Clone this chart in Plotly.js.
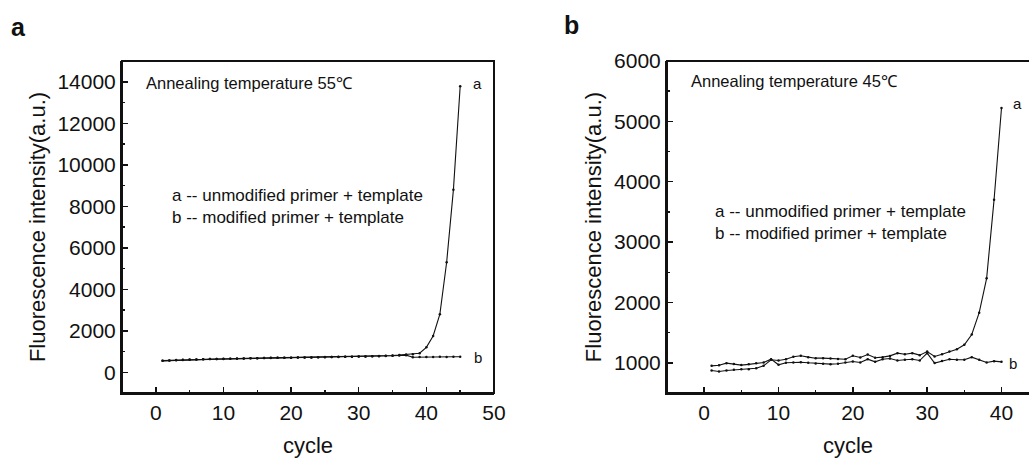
<!DOCTYPE html>
<html>
<head>
<meta charset="utf-8">
<script src="https://cdn.plot.ly/plotly-3.0.1.min.js"></script>
<style>
html,body{margin:0;padding:0;background:#fff;}
#wrap{position:relative;width:1029px;height:458px;overflow:hidden;}
#chart{width:1029px;height:458px;}
.frame{position:absolute;box-sizing:border-box;border:2px solid #111;pointer-events:none;}
#frameA{left:121px;top:60px;width:374px;height:334px;}
#frameB{left:666px;top:60px;width:380px;height:334px;border-right:none;}
</style>
</head>
<body>
<div id="wrap">
<div id="chart"></div>
<div class="frame" id="frameA"></div>
<div class="frame" id="frameB"></div>
</div>
<script>
// Panel a: annealing 55 °C, cycles 1..45
const cyclesA = Array.from({length: 45}, (_, i) => i + 1);
const a55 = [560, 570, 585, 600, 610, 620, 630, 640, 635, 645, 650, 660, 665, 670, 680, 690, 695, 700, 695, 700, 705, 710, 715, 720, 730, 735, 745, 745, 750, 755, 765, 775, 780, 790, 810, 830, 850, 870, 915, 1200, 1750, 2800, 5300, 8800, 13780];
const b55 = [550, 565, 580, 595, 605, 615, 625, 635, 640, 640, 645, 655, 665, 672, 680, 686, 690, 696, 700, 702, 706, 710, 715, 720, 726, 732, 738, 744, 750, 756, 762, 770, 776, 785, 795, 810, 825, 720, 730, 735, 740, 745, 740, 745, 750];

// Panel b: annealing 45 °C, cycles 1..40
const cyclesB = Array.from({length: 40}, (_, i) => i + 1);
const a45 = [873, 856, 873, 884, 895, 895, 911, 950, 1050, 1039, 1060, 1100, 1116, 1094, 1077, 1077, 1072, 1065, 1060, 1116, 1088, 1138, 1083, 1094, 1115, 1160, 1143, 1160, 1127, 1187, 1105, 1143, 1187, 1226, 1298, 1470, 1830, 2400, 3700, 5220];
const b45 = [950, 960, 994, 980, 962, 975, 994, 1006, 1061, 967, 1000, 1005, 1010, 1000, 990, 983, 978, 985, 1006, 1022, 1005, 1060, 1016, 1060, 1071, 1038, 1050, 1060, 1038, 1160, 995, 1030, 1060, 1050, 1050, 1094, 1050, 1005, 1028, 1016];

const W = 1029, H = 458;
const px = x => x / W;
const py = y => 1 - y / H;
const FONT = 'Arial, Liberation Sans, sans-serif';
const ink = '#111111';

function line(x, y, xa, ya) {
  return {x: x, y: y, xaxis: xa, yaxis: ya, type: 'scatter', mode: 'lines+markers',
    line: {color: ink, width: 1.1}, marker: {color: ink, size: 2.5}, showlegend: false, hoverinfo: 'skip'};
}

const data = [
  line(cyclesA, b55, 'x', 'y'),
  line(cyclesA, a55, 'x', 'y'),
  line(cyclesB, b45, 'x2', 'y2'),
  line(cyclesB, a45, 'x2', 'y2')
];

function xax(domain, range, anchor) {
  return {domain: domain, range: range, anchor: anchor, showgrid: false, zeroline: false,
    showline: true, linecolor: ink, linewidth: 2,
    ticks: 'inside', ticklen: 6, tickwidth: 1.5, tickcolor: ink, dtick: 10, tick0: 0,
    minor: {ticks: 'inside', ticklen: 3, tickwidth: 1.5, tickcolor: ink, dtick: 5},
    tickfont: {family: FONT, size: 21, color: ink}, tickformat: 'd',
    title: {text: 'cycle', font: {family: FONT, size: 22, color: ink}, standoff: 14},
    automargin: false, fixedrange: true};
}
function yax(domain, range, dtick, minorD, anchor) {
  return {domain: domain, range: range, anchor: anchor, showgrid: false, zeroline: false,
    showline: true, linecolor: ink, linewidth: 2,
    ticks: 'inside', ticklen: 6, tickwidth: 1.5, tickcolor: ink, dtick: dtick, tick0: 0,
    minor: {ticks: 'inside', ticklen: 3, tickwidth: 1.5, tickcolor: ink, dtick: minorD},
    tickfont: {family: FONT, size: 21, color: ink}, tickformat: 'd',
    title: {text: 'Fluorescence intensity(a.u.)', font: {family: FONT, size: 22, color: ink}, standoff: 6},
    automargin: false, fixedrange: true};
}

const yDom = [py(393), py(61)];

function ann(text, x, y, size, xanchor) {
  return {text: text, xref: 'paper', yref: 'paper', x: px(x), y: py(y),
    xanchor: xanchor, yanchor: 'middle', showarrow: false, align: 'left',
    font: {family: FONT, size: size, color: ink}};
}
function edge(x0, y0, x1, y1) {
  return {type: 'line', xref: 'paper', yref: 'paper', x0: px(x0), y0: py(y0), x1: px(x1), y1: py(y1),
    line: {color: 'rgb(17,17,17)', width: 2}, layer: 'above'};
}
const frameShapes = [
  edge(122, 61, 494, 61), edge(122, 393, 494, 393), edge(122, 61, 122, 393), edge(494, 61, 494, 393),
  edge(667, 61, 1029, 61), edge(667, 393, 1029, 393), edge(667, 61, 667, 393)
];

const layout = {
  width: W, height: H,
  margin: {l: 0, r: 0, t: 0, b: 0, pad: 0},
  paper_bgcolor: '#ffffff', plot_bgcolor: '#ffffff',
  xaxis: xax([px(122), px(494)], [-5, 50], 'y'),
  yaxis: yax(yDom, [-1000, 15000], 2000, 1000, 'x'),
  xaxis2: xax([px(667), 1], [-5, 43.7], 'y2'),
  yaxis2: yax(yDom, [500, 6000], 1000, 500, 'x2'),
  shapes: frameShapes,
  annotations: [
    ann('<b>a</b>', 18, 27, 25, 'center'),
    ann('<b>b</b>', 571, 25, 25, 'center'),
    ann('Annealing temperature 55℃', 144, 83, 16.5, 'left'),
    ann('a -- unmodified primer + template<br>b -- modified primer + template', 170, 206, 17, 'left'),
    ann('a', 477, 84, 15, 'center'),
    ann('b', 478, 357, 15, 'center'),
    ann('Annealing temperature 45℃', 689, 81, 16.5, 'left'),
    ann('a -- unmodified primer + template<br>b -- modified primer + template', 713, 222, 17, 'left'),
    ann('a', 1017, 103, 15, 'center'),
    ann('b', 1013, 363, 15, 'center')
  ]
};

Plotly.newPlot('chart', data, layout, {displayModeBar: false, staticPlot: true}).then(function (gd) {
  return Plotly.relayout(gd, {shapes: frameShapes});
}).catch(function () {});
</script>
</body>
</html>
